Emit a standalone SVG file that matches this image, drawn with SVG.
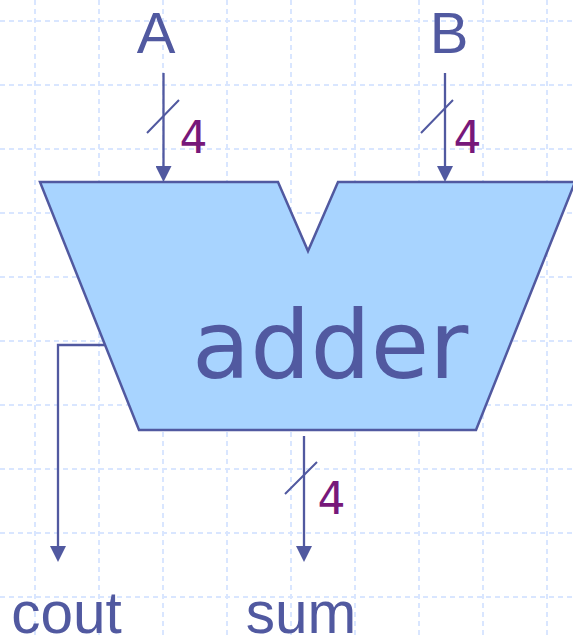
<svg xmlns="http://www.w3.org/2000/svg" width="573" height="638" viewBox="0 0 573 638">
<style>
.grid{stroke:#d9e6ff;stroke-width:2;stroke-dasharray:5 4;fill:none}
.wire{stroke:#5159a0;stroke-width:2.300;fill:none}
.tick{stroke:#5159a0;stroke-width:2;fill:none}
.lab{font-family:"Liberation Sans",Arial,sans-serif;fill:#5159a0}
.num{font-family:"DejaVu Sans",sans-serif;fill:#77187a;font-size:44px}
</style>
<defs><marker id="ah" markerUnits="userSpaceOnUse" markerWidth="16" markerHeight="16" refX="2" refY="8" orient="auto"><path d="M0,0L16,8L0,16Z" fill="#5159a0"/></marker></defs>
<rect width="573" height="638" fill="#fff"/>
<g id="grid" class="grid">
<path d="M35,0V638M99,0V638M163,0V638M227,0V638M291,0V638M355,0V638M419,0V638M483,0V638M547,0V638"/>
<path d="M0,21H573M0,85H573M0,149H573M0,213H573M0,277H573M0,341H573M0,405H573M0,469H573M0,533H573M0,597H573"/>
</g>
<g id="adder">
<path d="M40,182H278L308,251L338,182H575L476,430H139Z" fill="#a8d4ff" stroke="#5159a0" stroke-width="2.500"/>
<text x="192" y="378" font-size="95" fill="#5159a0" font-family="'DejaVu Sans',sans-serif">adder</text>
</g>
<g id="connectors">
<path class="wire" d="M163.500,73V168" marker-end="url(#ah)"/>
<path class="wire" d="M445,73V168" marker-end="url(#ah)"/>
<path class="wire" d="M304,436V548" marker-end="url(#ah)"/>
<path class="wire" d="M105,345H58V548" marker-end="url(#ah)"/>
<path class="tick" d="M147,133L179,100M421,133L453,100M285,494L317,462"/>
</g>
<g id="A"><text class="lab" x="156" y="53" font-size="58" text-anchor="middle">A</text></g>
<g id="B"><text class="lab" x="449" y="53" font-size="58" text-anchor="middle">B</text></g>
<g id="w1"><text class="num" x="193.500" y="153" text-anchor="middle">4</text></g>
<g id="w2"><text class="num" x="467.500" y="153" text-anchor="middle">4</text></g>
<g id="w3"><text class="num" x="331.500" y="514" text-anchor="middle">4</text></g>
<g id="cout"><text class="lab" x="66.500" y="633" font-size="58.500" text-anchor="middle">cout</text></g>
<g id="sum"><text class="lab" x="301" y="633" font-size="58.500" text-anchor="middle">sum</text></g>
</svg>
